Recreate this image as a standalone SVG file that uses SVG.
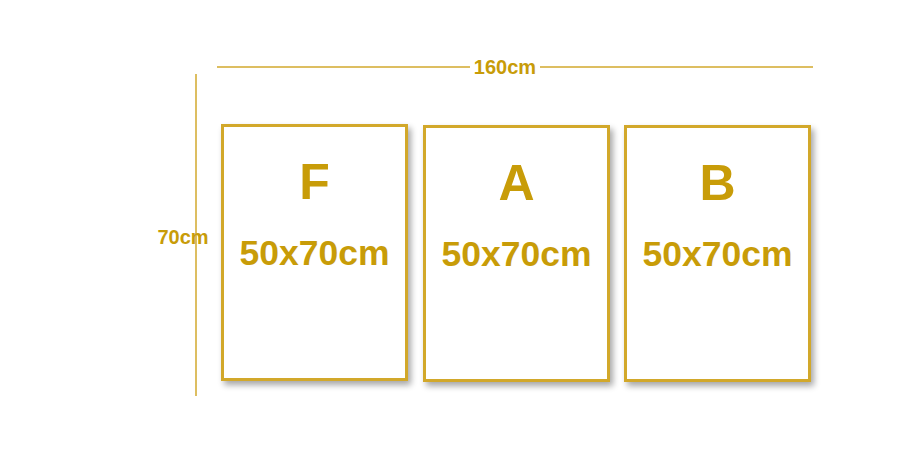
<svg xmlns="http://www.w3.org/2000/svg" width="920" height="472" viewBox="0 0 920 472">
<style>
.frame{fill:#ffffff;stroke:#d2a82c;stroke-width:3;filter:url(#sh)}
.dim{stroke:#d2a82c;stroke-width:1.5;fill:none}
text{font-family:"Liberation Sans",Arial,sans-serif;font-weight:bold;fill:#c89c08;text-anchor:middle}
.big{font-size:50px}
.size{font-size:35.5px}
.lab{font-size:20px}
</style>
<defs>
<filter id="sh" x="-10%" y="-10%" width="130%" height="130%">
<feGaussianBlur in="SourceAlpha" stdDeviation="3"/>
<feOffset dx="3" dy="4" result="b"/>
<feComponentTransfer><feFuncA type="linear" slope="0.35"/></feComponentTransfer>
<feMerge><feMergeNode/><feMergeNode in="SourceGraphic"/></feMerge>
</filter>
</defs>
<rect width="920" height="472" fill="#ffffff"/>
<g id="connectors">
<line class="dim" x1="217" y1="67" x2="813" y2="67"/>
<line class="dim" x1="196" y1="74" x2="196" y2="396"/>
</g>
<g id="dim-width">
<rect x="470" y="56" width="70" height="22" fill="#ffffff"/>
<text class="lab" x="505" y="74">160cm</text>
</g>
<g id="dim-height">
<text class="lab" x="183" y="244">70cm</text>
</g>
<g id="panel-F">
<rect class="frame" x="222.5" y="125.5" width="184" height="254"/>
<text class="big" x="314.5" y="199">F</text>
<text class="size" x="314.5" y="265">50x70cm</text>
</g>
<g id="panel-A">
<rect class="frame" x="424.5" y="126.5" width="184" height="254"/>
<text class="big" x="516.5" y="200">A</text>
<text class="size" x="516.5" y="266">50x70cm</text>
</g>
<g id="panel-B">
<rect class="frame" x="625.5" y="126.5" width="184" height="254"/>
<text class="big" x="717.5" y="200">B</text>
<text class="size" x="717.5" y="266">50x70cm</text>
</g>
</svg>
